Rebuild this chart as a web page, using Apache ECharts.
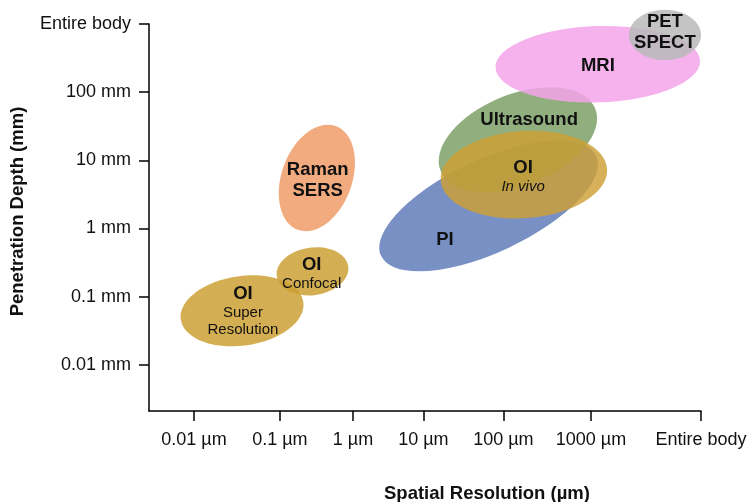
<!DOCTYPE html>
<html>
<head>
<meta charset="utf-8">
<script src="https://cdn.jsdelivr.net/npm/echarts@6/dist/echarts.min.js"></script>
<style>
  html, body { margin: 0; padding: 0; background: #fff; }
  #chart { width: 750px; height: 502px; }
</style>
</head>
<body>
<div id="chart"></div>
<script>
// x axis is drawn in "decade" units as they sit on the original picture (ticks are not evenly spaced there)
const xTickPos = [-2, -1, -0.15, 0.67, 1.6, 2.62, 3.9]
const xTickLabels = ['0.01 µm', '0.1 µm', '1 µm', '10 µm', '100 µm', '1000 µm', 'Entire body']
// y axis in log10(mm), "Entire body" sits one decade above 100 mm
const yTickPos = [-2, -1, 0, 1, 2, 3]
const yTickLabels = ['0.01 mm', '0.1 mm', '1 mm', '10 mm', '100 mm', 'Entire body']

// ellipses: centre x, centre y, half width (x units), half height (y units), tilt in degrees
const techNames = ['OI Super Resolution', 'OI Confocal', 'Raman SERS', 'PI', 'Ultrasound', 'OI In vivo', 'MRI', 'PET SPECT']
const centerX = [-1.44, -0.62, -0.57, 1.43, 1.77, 1.84, 2.70, 3.48]
const centerY = [-1.21, -0.63, 0.74, 0.33, 1.30, 0.79, 2.41, 2.84]
const halfW = [0.72, 0.42, 0.41, 1.38, 0.97, 0.97, 1.19, 0.42]
const halfH = [0.51, 0.35, 0.81, 0.68, 0.67, 0.64, 0.56, 0.37]
const tilt = [8, 8, -20, 25, 22, 4, 2, 0]
const fills = [
    'rgba(205,160,52,0.85)', 'rgba(205,160,52,0.85)', 'rgba(240,155,104,0.85)',
    'rgba(96,125,184,0.85)', 'rgba(118,155,94,0.8)', 'rgba(205,160,52,0.82)',
    'rgba(244,164,234,0.85)', 'rgba(186,186,186,0.85)'
]

// text blocks
const labelTitle = ['OI', 'OI', 'Raman\nSERS', 'PI', 'OI', 'Ultrasound', 'MRI', 'PET\nSPECT']
const labelSub = ['Super\nResolution', 'Confocal', '', '', 'In vivo', '', '', '']
const labelX = [-1.43, -0.63, -0.56, 0.92, 1.83, 1.90, 2.70, 3.48]
const labelY = [-1.21, -0.66, 0.71, -0.17, 0.76, 1.59, 2.38, 2.875]

const xMin = -2.523, xMax = 3.9
const yMin = -2.68, yMax = 3
const font = 'Liberation Sans, Arial, sans-serif'

const ellipseData = techNames.map((n, i) => [centerX[i], centerY[i], halfW[i], halfH[i], tilt[i]])
const labelData = labelTitle.map((t, i) => [labelX[i], labelY[i]])

function renderEllipse(params, api) {
    const c = api.coord([api.value(0), api.value(1)])
    const s = api.size([1, 1])
    return {
        type: 'ellipse',
        x: c[0], y: c[1],
        rotation: api.value(4) * Math.PI / 180,
        shape: { cx: 0, cy: 0, rx: api.value(2) * s[0], ry: api.value(3) * s[1] },
        style: { fill: fills[params.dataIndex] }
    }
}

function renderLabel(params, api) {
    const i = params.dataIndex
    const c = api.coord([api.value(0), api.value(1)])
    let txt = labelTitle[i].split('\n').map(l => '{t|' + l + '}').join('\n')
    if (labelSub[i]) {
        const key = labelSub[i] === 'In vivo' ? 'it' : 's'
        txt += '\n' + labelSub[i].split('\n').map(l => '{' + key + '|' + l + '}').join('\n')
    }
    return {
        type: 'text',
        x: c[0], y: c[1],
        style: {
            text: txt,
            align: 'center',
            verticalAlign: 'middle',
            rich: {
                t: { fontFamily: font, fontSize: 18.5, fontWeight: 'bold', lineHeight: 21, fill: '#111', align: 'center' },
                s: { fontFamily: font, fontSize: 15, lineHeight: 17, fill: '#111', align: 'center' },
                it: { fontFamily: font, fontSize: 15, fontStyle: 'italic', lineHeight: 17, fill: '#111', align: 'center' }
            }
        }
    }
}

const myChart = echarts.init(document.getElementById('chart'))
const axisColor = '#000'
myChart.setOption({
    animation: false,
    grid: { left: 149, right: 49, top: 24, bottom: 91, outerBoundsMode: 'none' },
    xAxis: {
        type: 'value', min: xMin, max: xMax,
        axisLine: { onZero: false, lineStyle: { color: axisColor, width: 1.5 } },
        axisTick: { customValues: xTickPos, length: 10, lineStyle: { color: axisColor, width: 1.5 } },
        axisLabel: {
            customValues: xTickPos, margin: 20, fontSize: 18, color: '#111', fontFamily: font,
            formatter: v => xTickLabels[xTickPos.findIndex(p => Math.abs(p - v) < 1e-6)]
        },
        splitLine: { show: false },
        name: 'Spatial Resolution (µm)', nameLocation: 'middle', nameGap: 73,
        nameTextStyle: { fontFamily: font, fontSize: 18.5, fontWeight: 'bold', color: '#111', padding: [0, 0, 0, 124] }
    },
    yAxis: {
        type: 'value', min: yMin, max: yMax,
        axisLine: { onZero: false, lineStyle: { color: axisColor, width: 1.5 } },
        axisTick: { customValues: yTickPos, length: 10, lineStyle: { color: axisColor, width: 1.5 } },
        axisLabel: {
            customValues: yTickPos, margin: 18, fontSize: 18, color: '#111', fontFamily: font,
            formatter: v => yTickLabels[yTickPos.findIndex(p => Math.abs(p - v) < 1e-6)]
        },
        splitLine: { show: false },
        name: 'Penetration Depth (mm)', nameLocation: 'middle', nameGap: 122,
        nameTextStyle: { fontFamily: font, fontSize: 18.5, fontWeight: 'bold', color: '#111', padding: [0, 0, 0, 12] }
    },
    series: [
        { type: 'custom', renderItem: renderEllipse, data: ellipseData, clip: false, z: 2 },
        { type: 'custom', renderItem: renderLabel, data: labelData, clip: false, z: 3 }
    ]
})
</script>
</body>
</html>
